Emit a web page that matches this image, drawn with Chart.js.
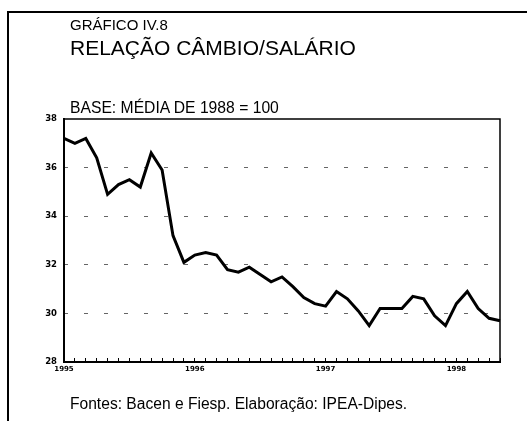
<!DOCTYPE html>
<html>
<head>
<meta charset="utf-8">
<script src="https://cdn.jsdelivr.net/npm/chart.js@4.4.0/dist/chart.umd.min.js"></script>
<style>
  html, body { margin: 0; padding: 0; background: #fff; }
  #wrap { position: relative; width: 527px; height: 421px; overflow: hidden; }
  #frame { position: absolute; left: 7px; top: 11px; width: 530px; height: 420px;
           border-left: 2px solid #000; border-top: 2px solid #000; }
  .txt { position: absolute; left: 70px; font-family: "Liberation Sans", Arial, sans-serif;
         color: #000; line-height: 1; white-space: nowrap; z-index: 2; }
  #chart { position: absolute; left: 0; top: 0; }
</style>
</head>
<body>
<div id="wrap">
  <div id="frame"></div>
  <canvas id="chart" width="527" height="421"></canvas>
  <div class="txt" style="top:17px;font-size:15px;">GRÁFICO IV.8</div>
  <div class="txt" style="top:37px;font-size:21px;">RELAÇÃO CÂMBIO/SALÁRIO</div>
  <div class="txt" style="top:100px;font-size:15.7px;">BASE: MÉDIA DE 1988 = 100</div>
  <div class="txt" style="top:396px;font-size:15.6px;">Fontes: Bacen e Fiesp. Elaboração: IPEA-Dipes.</div>
</div>
<script>
// monthly, jan/1995 - mai/1998
const months = [
  'jan/95', 'fev/95', 'mar/95', 'abr/95', 'mai/95', 'jun/95', 'jul/95', 'ago/95', 'set/95', 'out/95', 'nov/95', 'dez/95',
  'jan/96', 'fev/96', 'mar/96', 'abr/96', 'mai/96', 'jun/96', 'jul/96', 'ago/96', 'set/96', 'out/96', 'nov/96', 'dez/96',
  'jan/97', 'fev/97', 'mar/97', 'abr/97', 'mai/97', 'jun/97', 'jul/97', 'ago/97', 'set/97', 'out/97', 'nov/97', 'dez/97',
  'jan/98', 'fev/98', 'mar/98', 'abr/98', 'mai/98'
];

const cambioSalario = [
  37.2, 37.0, 37.2, 36.4, 34.9, 35.3, 35.5, 35.2, 36.6, 35.9, 33.2, 32.1,
  32.4, 32.5, 32.4, 31.8, 31.7, 31.9, 31.6, 31.3, 31.5, 31.1, 30.65, 30.4,
  30.3, 30.9, 30.6, 30.1, 29.5, 30.2, 30.2, 30.2, 30.7, 30.6, 29.9, 29.5,
  30.4, 30.9, 30.2, 29.8, 29.7
];

const xTickLabels = ['1995', '1996', '1997', '1998'];
const yTicks = [28, 30, 32, 34, 36, 38];

// top and right sides of the plot box
const plotFrame = {
  id: 'plotFrame',
  afterDraw(chart) {
    const { ctx, chartArea: a } = chart;
    ctx.save();
    ctx.strokeStyle = '#000';
    ctx.lineWidth = 1.5;
    ctx.beginPath();
    ctx.moveTo(a.left, a.top);
    ctx.lineTo(a.right, a.top);
    ctx.lineTo(a.right, a.bottom);
    ctx.stroke();
    ctx.restore();
  }
};

const ctx = document.getElementById('chart').getContext('2d');
new Chart(ctx, {
  type: 'line',
  data: {
    labels: months,
    datasets: [{
      data: cambioSalario,
      borderColor: '#000',
      borderWidth: 3,
      pointRadius: 0,
      tension: 0,
      fill: false
    }]
  },
  options: {
    responsive: false,
    animation: false,
    layout: { padding: { left: 0, right: 27, top: 119, bottom: 0 } },
    plugins: { legend: { display: false }, tooltip: { enabled: false } },
    scales: {
      x: {
        afterFit: (s) => { s.height = 59; },
        grid: { drawOnChartArea: false, drawTicks: true, tickLength: -4, color: '#000', lineWidth: 1 },
        border: { color: '#000', width: 2 },
        ticks: {
          autoSkip: false,
          maxRotation: 0,
          padding: 7,
          color: '#000',
          font: { family: 'DejaVu Sans', size: 7, weight: 'bold' },
          callback: (v, i) => (i % 12 === 0 ? xTickLabels[i / 12] : '')
        }
      },
      y: {
        min: yTicks[0],
        max: yTicks[yTicks.length - 1],
        afterFit: (s) => { s.width = 64; },
        grid: {
          drawTicks: false,
          lineWidth: 1,
          color: (c) => (c.tick && (c.tick.value === yTicks[0] || c.tick.value === yTicks[yTicks.length - 1]) ? 'rgba(0,0,0,0)' : '#666')
        },
        border: { color: '#000', width: 2, dash: [4, 16], dashOffset: 1 },
        ticks: {
          stepSize: 2,
          padding: 7,
          color: '#000',
          font: { family: 'DejaVu Sans', size: 8.5, weight: 'bold' }
        }
      }
    }
  },
  plugins: [plotFrame]
});
</script>
</body>
</html>
